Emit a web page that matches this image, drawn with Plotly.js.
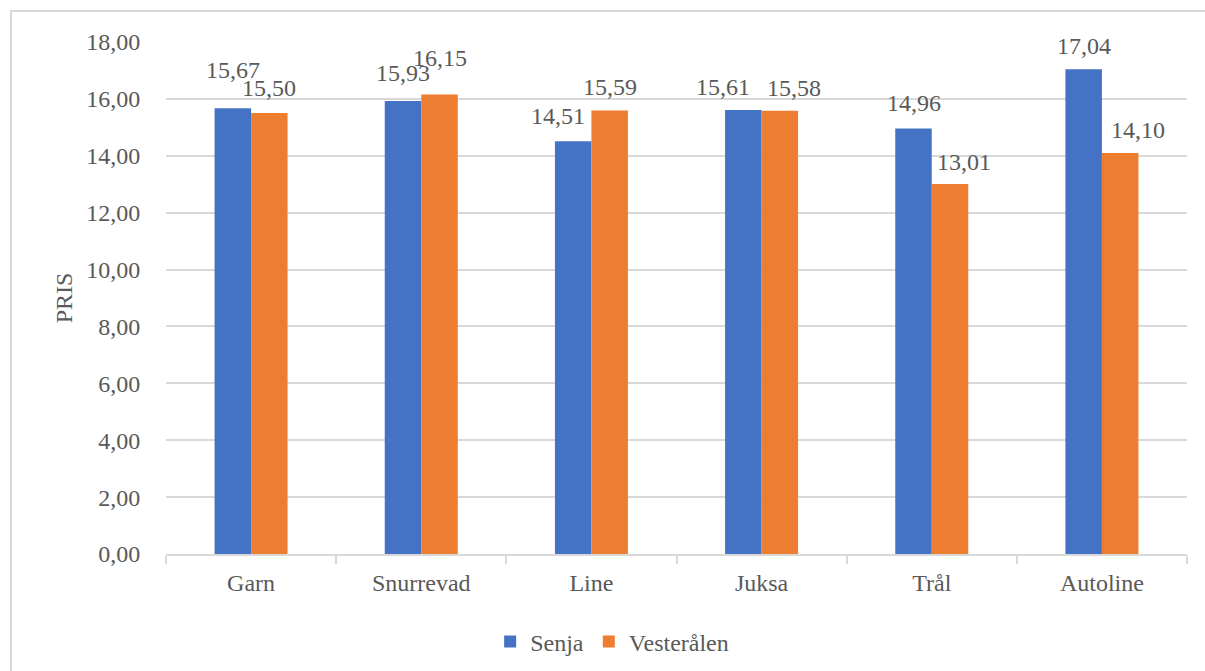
<!DOCTYPE html>
<html>
<head>
<meta charset="utf-8">
<script src="https://cdn.plot.ly/plotly-3.0.1.min.js"></script>
<style>html,body{margin:0;padding:0;background:#fff;}#chart{width:1205px;height:671px;}</style>
</head>
<body>
<div id="chart"></div>
<script>
const categories = ["Garn", "Snurrevad", "Line", "Juksa", "Trål", "Autoline"];
const senja = [15.67, 15.93, 14.51, 15.61, 14.96, 17.04];
const vesteralen = [15.50, 16.15, 15.59, 15.58, 13.01, 14.10];
const yTicks = [0, 2, 4, 6, 8, 10, 12, 14, 16, 18];
const seriesNames = ["Senja", "Vesterålen"];
const colors = ["#4472C4", "#ED7D31"];

// label nudges (px) mimicking Excel's overlap avoidance
const nudgeX = [[0, 0, -15, -20, 0, 0], [0, 0, 0, 14, 14, 18]];
const nudgeY = [[15, 5, 2, 0, 2, 0], [2, 14, 1, 0, -1, 0]];

const fmt = v => v.toFixed(2).replace(".", ",");
const FONT = "Liberation Serif";
const FS = 24;
const TXT = "#595959";
const bargap = 0.571;

const seriesVals = [senja, vesteralen];
const traces = seriesVals.map((vals, s) => ({
  type: "bar",
  name: seriesNames[s],
  x: categories,
  y: vals,
  marker: {color: colors[s]},
  hoverinfo: "skip"
}));

const half = (1 - bargap) / 4;
const annotations = [];
seriesVals.forEach((vals, s) => {
  vals.forEach((v, i) => {
    annotations.push({
      x: i + (s === 0 ? -half : half),
      y: v,
      xref: "x", yref: "y",
      text: fmt(v),
      showarrow: false,
      yshift: 23 + nudgeY[s][i],
      xshift: nudgeX[s][i],
      font: {family: FONT, size: FS, color: TXT}
    });
  });
});

const layout = {
  width: 1205, height: 671,
  margin: {l: 166, r: 18, t: 42, b: 117},
  paper_bgcolor: "#fff", plot_bgcolor: "#fff",
  font: {family: FONT, size: FS, color: TXT},
  barmode: "group",
  bargap: bargap,
  bargroupgap: 0,
  showlegend: true,
  legend: {
    orientation: "h",
    xref: "container", yref: "container",
    x: 0.508, xanchor: "center", y: 0.0432, yanchor: "middle",
    font: {family: FONT, size: FS, color: TXT},
    itemwidth: 30, traceorder: "normal"
  },
  xaxis: {
    type: "category",
    showgrid: false,
    showline: true, linecolor: "#D9D9D9", linewidth: 2,
    ticks: "outside", tickson: "boundaries", ticklen: 8, tickcolor: "#D9D9D9", tickwidth: 2,
    ticklabelstandoff: 6,
    tickfont: {family: FONT, size: FS, color: TXT},
    fixedrange: true
  },
  yaxis: {
    range: [0, 18],
    tickvals: yTicks,
    ticktext: yTicks.map(fmt),
    showgrid: true, gridcolor: "#D9D9D9", gridwidth: 2,
    zeroline: false, showline: false,
    ticks: "outside", ticklen: 20, tickcolor: "rgba(0,0,0,0)",
    tickfont: {family: FONT, size: FS, color: TXT},
    title: {text: "PRIS", font: {family: FONT, size: FS, color: TXT}, standoff: 6},
    fixedrange: true
  },
  annotations: annotations,
  shapes: [{
    type: "rect", xref: "paper", yref: "paper",
    x0: -0.1518, x1: 1.03, y0: -0.26, y1: 1.0605,
    line: {color: "#D9D9D9", width: 2}, fillcolor: "rgba(0,0,0,0)", layer: "below"
  }]
};

Plotly.newPlot("chart", traces, layout, {displayModeBar: false, staticPlot: true});
</script>
</body>
</html>
